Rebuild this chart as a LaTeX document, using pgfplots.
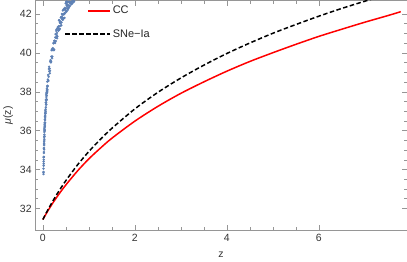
\documentclass[border=0pt]{standalone}
\usepackage{fontspec}
\setmainfont{Liberation Sans}
\usepackage{pgfplots}
\pgfplotsset{compat=1.18}
\definecolor{mblue}{RGB}{94,129,181}
\definecolor{framegray}{RGB}{150,150,150}
\pgfplotsset{
 ccleg/.style={/pgfplots/legend image code/.code={\draw[##1] (23pt,0pt) -- (45pt,0pt);}},
 snleg/.style={/pgfplots/legend image code/.code={\draw[##1] (0pt,0pt) -- (45pt,0pt);}},
}
\begin{document}
\begin{tikzpicture}[font=\fontsize{11}{13}\selectfont]
\begin{axis}[
 scale only axis, width=372pt, height=230pt,
 xmin=-0.168, xmax=7.91, ymin=30.87, ymax=42.69,
 xtick={0,2,4,6}, ytick={32,34,36,38,40,42},
 minor x tick num=3, minor y tick num=3,
 tick align=inside, tick pos=both,
 major tick length=5pt, minor tick length=3pt,
 axis line style={framegray},
 every tick/.style={framegray, line width=0.5pt},
 /pgf/number format/assume math mode=true,
 tick label style={font=\fontsize{10.5}{12}\selectfont, text=black!80},
 label style={font=\fontsize{10.5}{12}\selectfont, text=black!80},
 xlabel={z}, ylabel={\textit{μ}(z)},
 xlabel style={yshift=-4pt},
 legend style={draw=none, fill=none, inner sep=0pt, at={(0.078,0.985)}, anchor=north west,
   font=\fontsize{11}{13}\selectfont, row sep=10pt, text=black!85},
 legend cell align=left,
 clip=true,
]
\addlegendimage{ccleg, color=red, line width=1.5pt}
\addlegendentry{CC}
\addlegendimage{snleg, color=black, line width=1.5pt, dash pattern=on 4.5pt off 2.5pt}
\addlegendentry{SNe{\textminus}Ia}
\addplot[only marks, mark=*, mark size=1pt, color=mblue, forget plot] table {
z mu
0.013 33.85
0.015 33.88
0.0175 34.63
0.02 34.65
0.0225 34.65
0.025 35.34
0.0275 35.43
0.03 35.47
0.0325 36.09
0.035 35.72
0.0375 36.17
0.04 36.22
0.0425 36.57
0.045 36.24
0.0475 36.74
0.05 36.66
0.055 37.05
0.06 36.97
0.065 37.58
0.07 37.45
0.075 37.35
0.08 37.95
0.085 37.98
0.09 37.95
0.095 38.52
0.1 38.10
0.014 33.76
0.016 34.41
0.019 34.51
0.021 35.08
0.024 35.11
0.026 35.03
0.029 35.67
0.031 35.56
0.034 35.93
0.036 36.30
0.039 35.98
0.041 36.40
0.044 36.42
0.046 36.73
0.049 36.41
0.052 36.89
0.057 36.89
0.062 37.44
0.067 37.34
0.072 37.84
0.077 37.73
0.082 37.61
0.087 38.15
0.092 38.02
0.097 38.31
0.0135 34.05
0.0165 34.20
0.018 34.30
0.0215 34.90
0.023 34.85
0.0265 35.25
0.028 35.30
0.032 35.80
0.0335 35.70
0.037 36.00
0.038 36.05
0.0425 36.35
0.047 36.55
0.051 36.80
0.054 36.95
0.059 37.10
0.064 37.20
0.069 37.60
0.074 37.55
0.079 37.90
0.084 37.80
0.089 38.05
0.094 38.25
0.11 38.63
0.12 38.56
0.13 39.17
0.14 39.05
0.15 38.95
0.16 39.55
0.17 39.58
0.18 39.56
0.19 40.14
0.20 39.73
0.21 40.15
0.22 40.16
0.23 40.49
0.24 40.14
0.25 40.62
0.26 40.52
0.27 40.80
0.28 40.61
0.29 41.13
0.30 40.92
0.31 40.75
0.32 41.28
0.33 41.24
0.34 41.16
0.35 41.67
0.36 41.20
0.37 41.57
0.38 41.53
0.39 41.82
0.40 41.42
0.105 38.29
0.115 38.86
0.125 38.77
0.135 39.29
0.145 39.20
0.155 39.09
0.165 39.63
0.175 39.51
0.185 39.81
0.195 40.19
0.205 39.81
0.215 40.24
0.225 40.21
0.235 40.53
0.245 40.17
0.255 40.62
0.265 40.51
0.275 40.97
0.285 40.78
0.295 41.21
0.305 41.03
0.315 40.85
0.325 41.33
0.335 41.14
0.345 41.37
0.355 41.68
0.365 41.25
0.375 41.63
0.385 41.56
0.395 41.83
0.41 41.86
0.42 41.73
0.43 41.97
0.44 41.75
0.45 42.24
0.46 41.99
0.47 41.80
0.48 42.32
0.49 42.26
0.50 42.15
0.51 42.64
0.52 42.15
0.53 42.50
0.54 42.45
0.55 42.72
0.56 42.31
0.57 42.73
0.58 42.58
0.60 42.58
0.66 42.71
0.405 41.57
0.415 42.00
0.425 41.78
0.435 42.18
0.445 41.98
0.455 41.78
0.465 42.23
0.475 42.03
0.485 42.26
0.495 42.55
0.505 42.10
0.515 42.46
0.525 42.37
0.535 42.63
0.545 42.22
0.555 42.62
0.565 42.45
0.585 42.63
0.61 42.58
0.63 42.64
0.65 42.67
0.62 42.50
0.64 42.55
0.67 42.62
0.68 42.66
0.59 42.42
0.57 42.36
0.53 42.28
0.47 42.05
0.43 41.70
0.38 41.40
};
\addplot[color=red, line width=1.5pt, smooth, forget plot] table {
z mu
0 31.43
0.1 31.84
0.2 32.22
0.3 32.57
0.4 32.90
0.5 33.21
0.75 33.92
1 34.55
1.25 35.10
1.5 35.61
2 36.49
2.5 37.25
3 37.92
3.5 38.51
4 39.06
4.5 39.56
5 40.01
5.5 40.44
6 40.85
6.5 41.22
7 41.58
7.5 41.92
7.78 42.12
};
\addplot[color=black, line width=1.5pt, dash pattern=on 4.5pt off 2.5pt, smooth, forget plot] table {
z mu
0 31.43
0.1 31.89
0.2 32.31
0.3 32.71
0.4 33.08
0.5 33.43
0.75 34.23
1 34.93
1.25 35.55
1.5 36.12
2 37.12
2.5 37.97
3 38.71
3.5 39.37
4 39.97
4.5 40.51
5 41.01
5.5 41.46
6 41.89
6.5 42.29
7 42.66
7.5 43.01
7.8 43.21
};
\end{axis}
\end{tikzpicture}
\end{document}
